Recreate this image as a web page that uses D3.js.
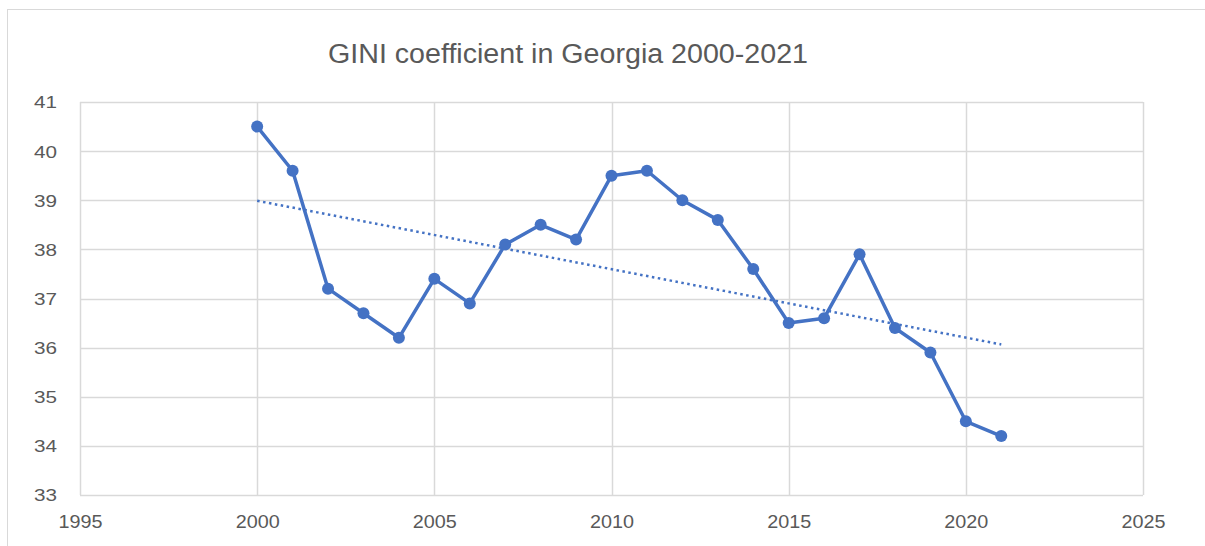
<!DOCTYPE html>
<html>
<head>
<meta charset="utf-8">
<script src="https://cdnjs.cloudflare.com/ajax/libs/d3/7.8.5/d3.min.js"></script>
<style>
  body { margin: 0; background: #fff; }
  svg { display: block; font-family: "Liberation Sans", Arial, sans-serif; }
</style>
</head>
<body>
<div id="chart"></div>
<script>
// GINI coefficient, Georgia
var years = [2000, 2001, 2002, 2003, 2004, 2005, 2006, 2007, 2008, 2009, 2010,
             2011, 2012, 2013, 2014, 2015, 2016, 2017, 2018, 2019, 2020, 2021];
var gini = [40.5, 39.6, 37.2, 36.7, 36.2, 37.4, 36.9, 38.1, 38.5, 38.2, 39.5,
            39.6, 39.0, 38.6, 37.6, 36.5, 36.6, 37.9, 36.4, 35.9, 34.5, 34.2];
var xTicks = [1995, 2000, 2005, 2010, 2015, 2020, 2025];
var yTicks = [33, 34, 35, 36, 37, 38, 39, 40, 41];
var title = 'GINI coefficient in Georgia 2000-2021';

var width = 1205, height = 546;
var margin = {left: 80, right: 62, top: 102, bottom: 51};
var blue = '#4472c4';
var textGray = '#595959';

var svg = d3.select('#chart').append('svg')
    .attr('width', width)
    .attr('height', height);

// chart frame (cropped at right/bottom)
svg.append('rect')
    .attr('x', 7.5).attr('y', 9.5)
    .attr('width', 1220).attr('height', 560)
    .attr('fill', 'none')
    .attr('stroke', '#d9d9d9');

var x = d3.scaleLinear().domain([1995, 2025]).range([margin.left, width - margin.right]);
var y = d3.scaleLinear().domain([33, 41]).range([height - margin.bottom, margin.top]);

// gridlines
svg.append('g').selectAll('line')
    .data(yTicks).join('line')
    .attr('x1', x(1995)).attr('x2', x(2025))
    .attr('y1', d => Math.round(y(d)) + 0.5).attr('y2', d => Math.round(y(d)) + 0.5)
    .attr('stroke', '#d9d9d9').attr('stroke-width', 1.5);

svg.append('g').selectAll('line')
    .data(xTicks).join('line')
    .attr('x1', d => Math.round(x(d)) + 0.5).attr('x2', d => Math.round(x(d)) + 0.5)
    .attr('y1', y(33)).attr('y2', y(41))
    .attr('stroke', '#d9d9d9').attr('stroke-width', 1.5);

// axes (labels only)
var yAxis = svg.append('g')
    .attr('transform', 'translate(' + (x(1995) - 23) + ',0)')
    .call(d3.axisLeft(y).tickValues(yTicks).tickSize(0).tickFormat(d3.format('d')));
yAxis.select('.domain').remove();
yAxis.selectAll('text')
    .attr('fill', textGray).attr('font-size', 17)
    .attr('font-family', '"Liberation Sans", Arial, sans-serif')
    .attr('textLength', 23).attr('lengthAdjust', 'spacingAndGlyphs')
    .attr('dy', '0.35em').attr('x', 0);

var xAxis = svg.append('g')
    .attr('transform', 'translate(0,' + (y(33) + 20) + ')')
    .call(d3.axisBottom(x).tickValues(xTicks).tickSize(0).tickFormat(d3.format('d')));
xAxis.select('.domain').remove();
xAxis.selectAll('text')
    .attr('fill', textGray).attr('font-size', 18)
    .attr('font-family', '"Liberation Sans", Arial, sans-serif')
    .attr('textLength', 44).attr('lengthAdjust', 'spacingAndGlyphs')
    .attr('dy', '0.71em').attr('y', 0);

// linear trendline (least squares)
var mx = d3.mean(years), my = d3.mean(gini);
var slope = d3.sum(years, (d, i) => (d - mx) * (gini[i] - my)) / d3.sum(years, d => (d - mx) * (d - mx));
var trend = [years[0], years[years.length - 1]].map(d => [d, my + slope * (d - mx)]);

svg.append('path')
    .datum(trend)
    .attr('d', d3.line().x(d => x(d[0])).y(d => y(d[1])))
    .attr('fill', 'none')
    .attr('stroke', blue)
    .attr('stroke-width', 2.5)
    .attr('stroke-dasharray', '2.5,3.5');

// data line
var pts = years.map((d, i) => [d, gini[i]]);
svg.append('path')
    .datum(pts)
    .attr('d', d3.line().x(d => x(d[0])).y(d => y(d[1])))
    .attr('fill', 'none')
    .attr('stroke', blue)
    .attr('stroke-width', 3.5)
    .attr('stroke-linejoin', 'round');

svg.append('g').selectAll('circle')
    .data(pts).join('circle')
    .attr('cx', d => x(d[0]))
    .attr('cy', d => y(d[1]))
    .attr('r', 6)
    .attr('fill', blue);

// title
svg.append('text')
    .attr('x', 568).attr('y', 63)
    .attr('text-anchor', 'middle')
    .attr('fill', textGray)
    .attr('font-size', 27)
    .attr('textLength', 480).attr('lengthAdjust', 'spacingAndGlyphs')
    .text(title);
</script>
</body>
</html>
